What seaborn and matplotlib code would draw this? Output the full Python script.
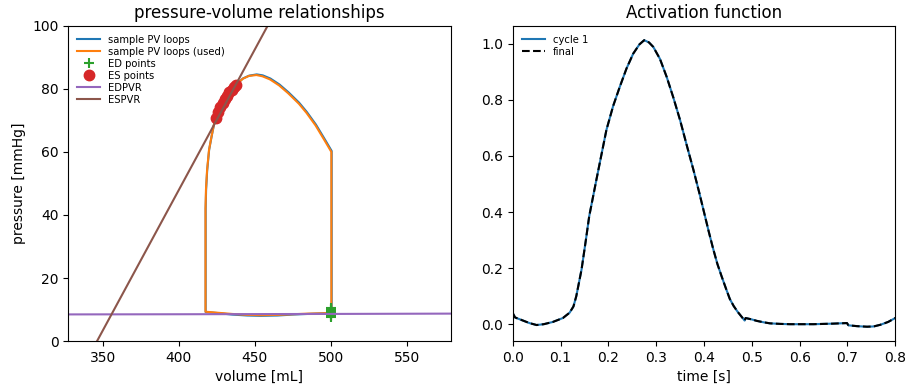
import numpy as np
import seaborn as sns
import matplotlib.pyplot as plt

# ------------------------------- DATA --------------------------------------
# PV loop (used), traced counter-clockwise starting at end-diastole
loop_vol = [500.4, 500.4, 496, 490, 484, 479, 472, 466, 460, 455, 451, 446,
            442, 438.9, 434, 430, 426.5, 423.6, 421.5, 419.8, 418.5, 417.8,
            417.5, 417.5, 425, 435, 445, 454, 465, 475, 485, 495, 500.4]
loop_p = [9.0, 60.0, 63.6, 68.4, 72.4, 75.3, 78.6, 81.1, 83.0, 84.0, 84.4, 84.1,
          83.2, 81.8, 79.2, 76.6, 73.4, 70.0, 65.0, 60.6, 54.0, 48.0,
          42.0, 9.3, 9.0, 8.6, 8.3, 8.2, 8.3, 8.5, 8.7, 8.8, 9.0]
# sample loop (blue) sits just under the used one
sample_vol = [500.6, 500.6, 496.2, 490.2, 484.2, 479.2, 472.2, 466.2, 460.2, 455.2, 451.2, 446.2,
              442.1, 439.0, 434.1, 430.1, 426.6, 423.7, 421.6, 419.9, 418.6, 417.9,
              417.6, 417.6, 425, 435, 445, 454, 465, 475, 485, 495, 500.6]
sample_p = [9.0, 60.3, 63.9, 68.7, 72.7, 75.6, 78.9, 81.4, 83.3, 84.3, 84.6, 84.2,
            83.3, 81.9, 79.3, 76.7, 73.5, 70.1, 65.1, 60.7, 54.1, 48.1,
            42.1, 9.2, 8.9, 8.4, 8.1, 8.0, 8.1, 8.4, 8.6, 8.8, 9.0]

ed_vol = [500.4] * 9
ed_p = [7.6, 7.95, 8.3, 8.65, 9.0, 9.35, 9.7, 10.05, 10.4]

es_vol = [424.3, 425.8, 427.3, 428.8, 430.3, 431.8, 433.3, 434.8, 436.3, 437.8]
es_p = [70.8, 72.6, 74.2, 75.6, 76.8, 77.9, 78.9, 79.8, 80.5, 81.2]

edpvr_vol = [327, 400, 450, 500, 579]
edpvr_p = [8.45, 8.5, 8.55, 8.6, 8.7]

espvr_vol = [327, 579]
espvr_p = [-17.0, 207.4]

# activation function (cycle 1 and final are on top of each other)
act_t = [0.0, 0.005, 0.02, 0.035, 0.05, 0.065, 0.084, 0.105, 0.119, 0.127, 0.133, 0.144,
         0.153, 0.160, 0.175, 0.196, 0.210, 0.224, 0.238, 0.252, 0.265, 0.275, 0.285,
         0.294, 0.308, 0.322, 0.336, 0.350, 0.364, 0.378, 0.390, 0.400, 0.410, 0.419,
         0.428, 0.437, 0.446, 0.454, 0.462, 0.470, 0.478, 0.485, 0.487, 0.500, 0.510,
         0.524, 0.538, 0.560, 0.580, 0.629, 0.670, 0.699, 0.702, 0.720, 0.741, 0.755,
         0.769, 0.785, 0.800]
act_cycle1 = [0.04, 0.024, 0.014, 0.004, -0.003, 0.0, 0.008, 0.022, 0.041, 0.063, 0.10, 0.195,
              0.30, 0.385, 0.515, 0.693, 0.778, 0.847, 0.912, 0.965, 0.998, 1.013, 1.005,
              0.989, 0.946, 0.882, 0.808, 0.728, 0.638, 0.55, 0.47, 0.40, 0.33, 0.27,
              0.215, 0.17, 0.127, 0.09, 0.065, 0.045, 0.028, 0.013, 0.022, 0.017, 0.012,
              0.007, 0.003, 0.001, 0.0, 0.0, 0.002, 0.004, -0.004, -0.007, -0.009, -0.008,
              -0.002, 0.008, 0.022]
act_final = list(act_cycle1)

# ------------------------------- PLOT --------------------------------------
fig, axes = plt.subplots(1, 2, figsize=(9.08, 3.92), dpi=100)
plt.subplots_adjust(left=0.075, right=0.986, bottom=0.13, top=0.934, wspace=0.162)

legend_kw = dict(loc='upper left', fontsize=7.2, frameon=False,
                 labelspacing=0.2, handlelength=2.3)

ax = axes[0]
sns.lineplot(x=sample_vol, y=sample_p, sort=False, estimator=None, color='C0',
             linewidth=1.5, label='sample PV loops', ax=ax)
sns.lineplot(x=loop_vol, y=loop_p, sort=False, estimator=None, color='C1',
             linewidth=1.5, label='sample PV loops (used)', ax=ax)
ax.plot(ed_vol, ed_p, '+', color='C2', markersize=7, markeredgewidth=1.5, label='ED points')
ax.plot(es_vol, es_p, 'o', color='C3', markersize=7.5, label='ES points')
sns.lineplot(x=edpvr_vol, y=edpvr_p, sort=False, estimator=None, color='C4',
             linewidth=1.5, label='EDPVR', ax=ax)
sns.lineplot(x=espvr_vol, y=espvr_p, sort=False, estimator=None, color='C5',
             linewidth=1.5, label='ESPVR', ax=ax)
ax.set_xlim(327, 579)
ax.set_ylim(0, 100)
ax.set_xlabel('volume [mL]')
ax.set_ylabel('pressure [mmHg]')
ax.set_title('pressure-volume relationships')
ax.legend(**legend_kw)

ax = axes[1]
sns.lineplot(x=act_t, y=act_cycle1, sort=False, estimator=None, color='C0',
             linewidth=1.5, label='cycle 1', ax=ax)
sns.lineplot(x=act_t, y=act_final, sort=False, estimator=None, color='k',
             linewidth=1.5, linestyle='--', label='final', ax=ax)
ax.set_xlim(0, 0.8)
ax.set_xlabel('time [s]')
ax.set_title('Activation function')
ax.legend(**legend_kw)

plt.savefig('out.png', dpi=100)
